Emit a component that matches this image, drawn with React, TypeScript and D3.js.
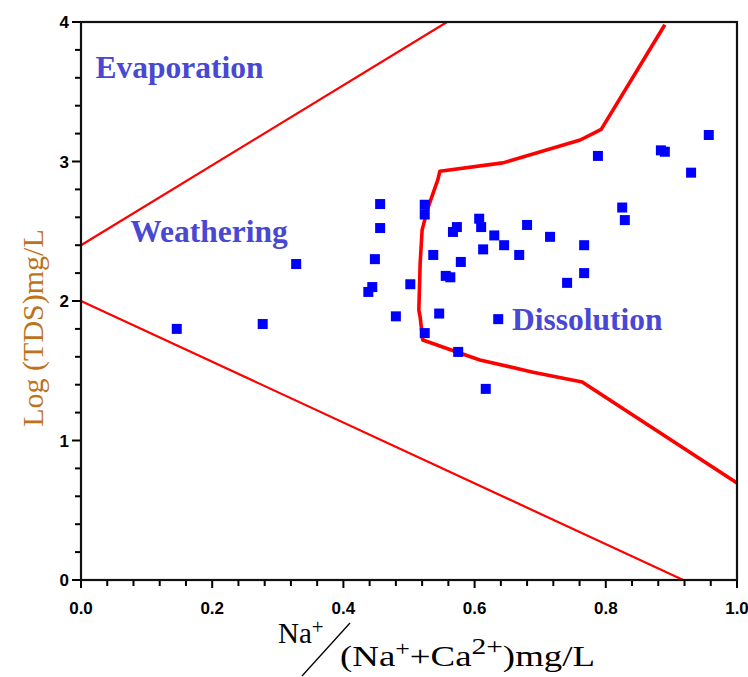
import React, { useRef, useEffect } from "react";
import * as d3 from "d3";

// sample points: Na+/(Na+ + Ca2+) vs log TDS
const NA_RATIO = [
  0.146, 0.277, 0.328, 0.456, 0.456, 0.448, 0.438, 0.444, 0.502, 0.48,
  0.957, 0.884, 0.89, 0.93, 0.788, 0.524, 0.524, 0.567, 0.573, 0.607,
  0.61, 0.63, 0.645, 0.68, 0.715, 0.767, 0.613, 0.668, 0.537, 0.579,
  0.556, 0.563, 0.825, 0.829, 0.767, 0.741, 0.546, 0.636, 0.524, 0.575,
  0.617,
];
const LOG_TDS = [
  1.8, 1.835, 2.265, 2.695, 2.523, 2.3, 2.065, 2.1, 2.12, 1.89,
  3.19, 3.08, 3.07, 2.92, 3.04, 2.69, 2.62, 2.495, 2.53, 2.59,
  2.53, 2.47, 2.4, 2.545, 2.46, 2.4, 2.37, 2.33, 2.33, 2.28,
  2.18, 2.17, 2.67, 2.58, 2.2, 2.13, 1.91, 1.87, 1.77, 1.635,
  1.37,
];

// Gibbs boundaries
const UPPER_LINE_X = [0, 0.558];
const UPPER_LINE_Y = [2.4, 4.0];
const LOWER_LINE_X = [0, 0.918];
const LOWER_LINE_Y = [2.0, 0];
const CURVE_X = [
  0.89, 0.793, 0.761, 0.643, 0.547, 0.544, 0.529, 0.52, 0.517, 0.515,
  0.517, 0.521, 0.573, 0.608, 0.689, 0.764, 1.0,
];
const CURVE_Y = [
  3.98, 3.23, 3.154, 2.99, 2.93, 2.87, 2.67, 2.51, 2.27, 1.935,
  1.885, 1.72, 1.634, 1.577, 1.49, 1.42, 0.695,
];

const X_TICKS = [0, 0.2, 0.4, 0.6, 0.8, 1.0];
const Y_TICKS = [0, 1, 2, 3, 4];

const REGIONS = [
  { name: "Evaporation", x: 0.022, y: 3.6 },
  { name: "Weathering", x: 0.075, y: 2.42 },
  { name: "Dissolution", x: 0.657, y: 1.79 },
];

function App() {
  const svgRef = useRef<SVGSVGElement | null>(null);

  useEffect(() => {
    const width = 748;
    const height = 677;
    const margin = { top: 22, right: 11, bottom: 97, left: 81 };

    const svg = d3.select(svgRef.current).attr("width", width).attr("height", height);
    svg.selectAll("*").remove();

    const x = d3.scaleLinear().domain([0, 1]).range([margin.left, width - margin.right]);
    const y = d3.scaleLinear().domain([0, 4]).range([height - margin.bottom, margin.top]);

    const tickFont = "'Liberation Sans', Arial, sans-serif";
    const serif = "'Liberation Serif', 'Times New Roman', serif";

    // minor ticks
    const xMinor = d3.range(0, 1.0001, 0.04).filter((v) => Math.abs(v * 5 - Math.round(v * 5)) > 1e-6);
    const yMinor = d3.range(0, 4.0001, 0.2).filter((v) => Math.abs(v - Math.round(v)) > 1e-6);

    const axisG = svg.append("g");
    const tick = (cls: string, vals: number[], horiz: boolean, len: number) =>
      axisG
        .selectAll(`line.${cls}`)
        .data(vals)
        .enter()
        .append("line")
        .attr("class", cls)
        .attr("x1", (d) => (horiz ? x(d) : x(0) - len))
        .attr("x2", (d) => (horiz ? x(d) : x(0)))
        .attr("y1", (d) => (horiz ? y(0) : y(d)))
        .attr("y2", (d) => (horiz ? y(0) + len : y(d)))
        .attr("stroke", "#000")
        .attr("stroke-width", 2);
    tick("xminor", xMinor, true, 6);
    tick("xmajor", X_TICKS, true, 8);
    tick("yminor", yMinor, false, 6);
    tick("ymajor", Y_TICKS, false, 9);

    axisG
      .selectAll("text.xl")
      .data(X_TICKS)
      .enter()
      .append("text")
      .attr("class", "xl")
      .attr("x", (d) => x(d))
      .attr("y", y(0) + 34)
      .attr("text-anchor", "middle")
      .style("font-family", tickFont)
      .style("font-weight", "bold")
      .style("font-size", "17px")
      .text((d) => d.toFixed(1));
    axisG
      .selectAll("text.yl")
      .data(Y_TICKS)
      .enter()
      .append("text")
      .attr("class", "yl")
      .attr("x", x(0) - 12)
      .attr("y", (d) => y(d) + 6)
      .attr("text-anchor", "end")
      .style("font-family", tickFont)
      .style("font-weight", "bold")
      .style("font-size", "17px")
      .text((d) => String(d));

    // boundary lines
    const line = d3
      .line<[number, number]>()
      .x((d) => x(d[0]))
      .y((d) => y(d[1]));
    const toPts = (xs: number[], ys: number[]) => xs.map((v, i) => [v, ys[i]] as [number, number]);

    svg
      .append("path")
      .attr("d", line(toPts(UPPER_LINE_X, UPPER_LINE_Y)))
      .attr("fill", "none")
      .attr("stroke", "#ff0000")
      .attr("stroke-width", 2.2);
    svg
      .append("path")
      .attr("d", line(toPts(LOWER_LINE_X, LOWER_LINE_Y)))
      .attr("fill", "none")
      .attr("stroke", "#ff0000")
      .attr("stroke-width", 2.2);
    svg
      .append("path")
      .attr("d", line(toPts(CURVE_X, CURVE_Y)))
      .attr("fill", "none")
      .attr("stroke", "#ff0000")
      .attr("stroke-width", 3.6)
      .attr("stroke-linejoin", "round");

    // points
    const sq = 10;
    svg
      .append("g")
      .selectAll("rect")
      .data(NA_RATIO.map((v, i) => [v, LOG_TDS[i]]))
      .enter()
      .append("rect")
      .attr("x", (d) => x(d[0]) - sq / 2)
      .attr("y", (d) => y(d[1]) - sq / 2)
      .attr("width", sq)
      .attr("height", sq)
      .attr("fill", "#0000ff");

    // region labels
    svg
      .append("g")
      .selectAll("text")
      .data(REGIONS)
      .enter()
      .append("text")
      .attr("x", (d) => x(d.x))
      .attr("y", (d) => y(d.y))
      .style("font-family", serif)
      .style("font-weight", "bold")
      .style("font-size", "31.5px")
      .attr("fill", "#4848d4")
      .text((d) => d.name);

    // frame
    svg
      .append("rect")
      .attr("x", x(0))
      .attr("y", y(4))
      .attr("width", x(1) - x(0))
      .attr("height", y(0) - y(4))
      .attr("fill", "none")
      .attr("stroke", "#111")
      .attr("stroke-width", 2.2);

    // y title
    svg
      .append("text")
      .attr("transform", `translate(43, 328) rotate(-90)`)
      .attr("text-anchor", "middle")
      .style("font-family", serif)
      .style("font-size", "30px")
      .attr("fill", "#bf721c")
      .text("Log (TDS)mg/L");

    // x title: Na+ / (Na+ + Ca2+) mg/L
    const numer = svg
      .append("text")
      .attr("x", 278)
      .attr("y", 643)
      .style("font-family", serif)
      .style("font-size", "29px")
      .attr("fill", "#000");
    numer.append("tspan").text("Na");
    numer.append("tspan").attr("dy", -9).style("font-size", "21px").text("+");

    svg
      .append("line")
      .attr("x1", 302)
      .attr("y1", 676)
      .attr("x2", 350)
      .attr("y2", 623)
      .attr("stroke", "#000")
      .attr("stroke-width", 1.3);

    const denom = svg
      .append("text")
      .attr("x", 340)
      .attr("y", 666)
      .attr("textLength", 255)
      .attr("lengthAdjust", "spacingAndGlyphs")
      .style("font-family", serif)
      .style("font-size", "30px")
      .attr("fill", "#000");
    denom.append("tspan").text("(Na");
    denom.append("tspan").attr("dy", -10).style("font-size", "21px").text("+");
    denom.append("tspan").attr("dy", 10).text("+Ca");
    denom.append("tspan").attr("dy", -12).style("font-size", "24px").text("2+");
    denom.append("tspan").attr("dy", 12).text(")mg/L");
  }, []);

  return (
    <svg
      ref={svgRef}
      style={{ position: "absolute", left: 0, top: 0, background: "#fff" }}
    ></svg>
  );
}

export default App;
